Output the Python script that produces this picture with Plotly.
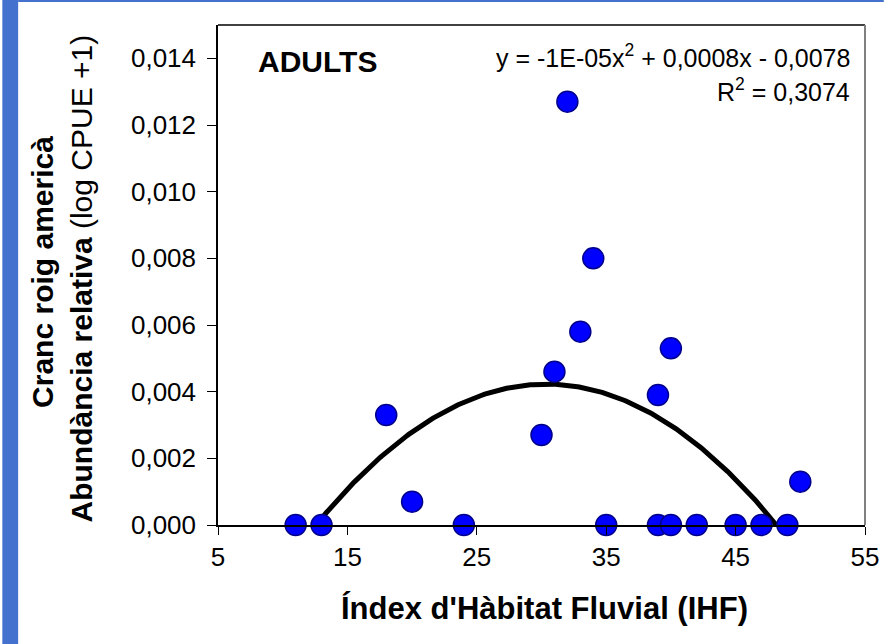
import numpy as np
import plotly.graph_objects as go

# Data
ihf = [11, 13, 24, 35, 39, 40, 42, 45, 47, 49,
       18, 20, 30, 31, 32, 33, 34, 39, 40, 50]
abund = [0.0, 0.0, 0.0, 0.0, 0.0, 0.0, 0.0, 0.0, 0.0, 0.0,
         0.0033, 0.0007, 0.0027, 0.0046, 0.0127, 0.0058, 0.0080, 0.0039, 0.0053, 0.0013]

y_tickvals = [0.0, 0.002, 0.004, 0.006, 0.008, 0.010, 0.012, 0.014]
y_ticktext = ["0,000", "0,002", "0,004", "0,006", "0,008", "0,010", "0,012", "0,014"]
x_tickvals = [5, 15, 25, 35, 45, 55]

# Polynomial (order 2) trendline fitted on the data, as in the source chart
coef = np.polyfit(ihf, abund, 2)
xs = np.linspace(min(ihf), max(ihf), 300)
ys = np.polyval(coef, xs)

W, H = 891, 644
ML, MR, MT, MB = 218, 19, 25, 119
PW, PH = W - ML - MR, H - MT - MB

def px(xp):
    return (xp - ML) / PW

def py(yp):
    return 1 - (yp - MT) / PH

FONT = "Liberation Sans, Arial, sans-serif"

fig = go.Figure()
fig.add_trace(go.Scatter(x=xs, y=ys, mode="lines",
                         line=dict(color="black", width=5),
                         hoverinfo="skip", showlegend=False))
fig.add_trace(go.Scatter(x=ihf, y=abund, mode="markers",
                         marker=dict(size=21, color="#0000FF",
                                     line=dict(color="#00008B", width=1.5)),
                         showlegend=False, cliponaxis=False))

fig.update_layout(
    width=W, height=H,
    margin=dict(l=ML, r=MR, t=MT, b=MB),
    paper_bgcolor="white", plot_bgcolor="white",
    font=dict(family=FONT, color="black", size=24),
    xaxis=dict(range=[5, 55], tickvals=x_tickvals, ticks="outside", ticklen=8,
               tickwidth=1, tickcolor="black", showline=True, linecolor="black",
               linewidth=1.5, showgrid=False, zeroline=False,
               tickfont=dict(size=26)),
    yaxis=dict(range=[0, 0.015], tickvals=y_tickvals, ticktext=y_ticktext,
               ticks="outside", ticklen=9, tickwidth=1, tickcolor="black",
               showline=True, linecolor="black", linewidth=1.5,
               showgrid=False, zeroline=False, tickfont=dict(size=26),
               ticklabelstandoff=6),
    shapes=[
        # left blue strip
        dict(type="rect", xref="paper", yref="paper", x0=px(0), x1=px(16),
             y0=py(H), y1=py(0), fillcolor="#4471CE", line=dict(width=0), layer="below"),
        # top blue line
        dict(type="rect", xref="paper", yref="paper", x0=px(16), x1=px(W),
             y0=py(2), y1=py(0), fillcolor="#4471CE", line=dict(width=0), layer="below"),
        # plot box top and right
        dict(type="line", xref="paper", yref="paper", x0=0, x1=1, y0=1, y1=1,
             line=dict(color="black", width=1.5)),
        dict(type="line", xref="paper", yref="paper", x0=1, x1=1, y0=0, y1=1,
             line=dict(color="#808080", width=2)),
    ],
    annotations=[
        dict(text="<b>ADULTS</b>", xref="paper", yref="paper", x=px(256), y=py(62),
             xanchor="left", yanchor="middle", showarrow=False, font=dict(size=30)),
        dict(text="y = -1E-05x<sup>2</sup> + 0,0008x - 0,0078", xref="paper", yref="paper",
             x=px(859), y=py(56), xanchor="right", yanchor="middle", showarrow=False,
             font=dict(size=25)),
        dict(text="R<sup>2</sup> = 0,3074", xref="paper", yref="paper",
             x=px(859), y=py(90), xanchor="right", yanchor="middle", showarrow=False,
             font=dict(size=25)),
        dict(text="<b>Índex d'Hàbitat Fluvial (IHF)</b>", xref="paper", yref="paper",
             x=px(548), y=py(608), xanchor="center", yanchor="middle", showarrow=False,
             font=dict(size=31)),
        dict(text="<b>Cranc roig americà</b>", xref="paper", yref="paper",
             x=px(40), y=py(272), xanchor="center", yanchor="middle", showarrow=False,
             textangle=-90, font=dict(size=30)),
        dict(text="<b>Abundància relativa</b> (log CPUE +1)", xref="paper", yref="paper",
             x=px(80), y=py(278), xanchor="center", yanchor="middle", showarrow=False,
             textangle=-90, font=dict(size=30)),
    ],
)

fig.write_html("out.html")
